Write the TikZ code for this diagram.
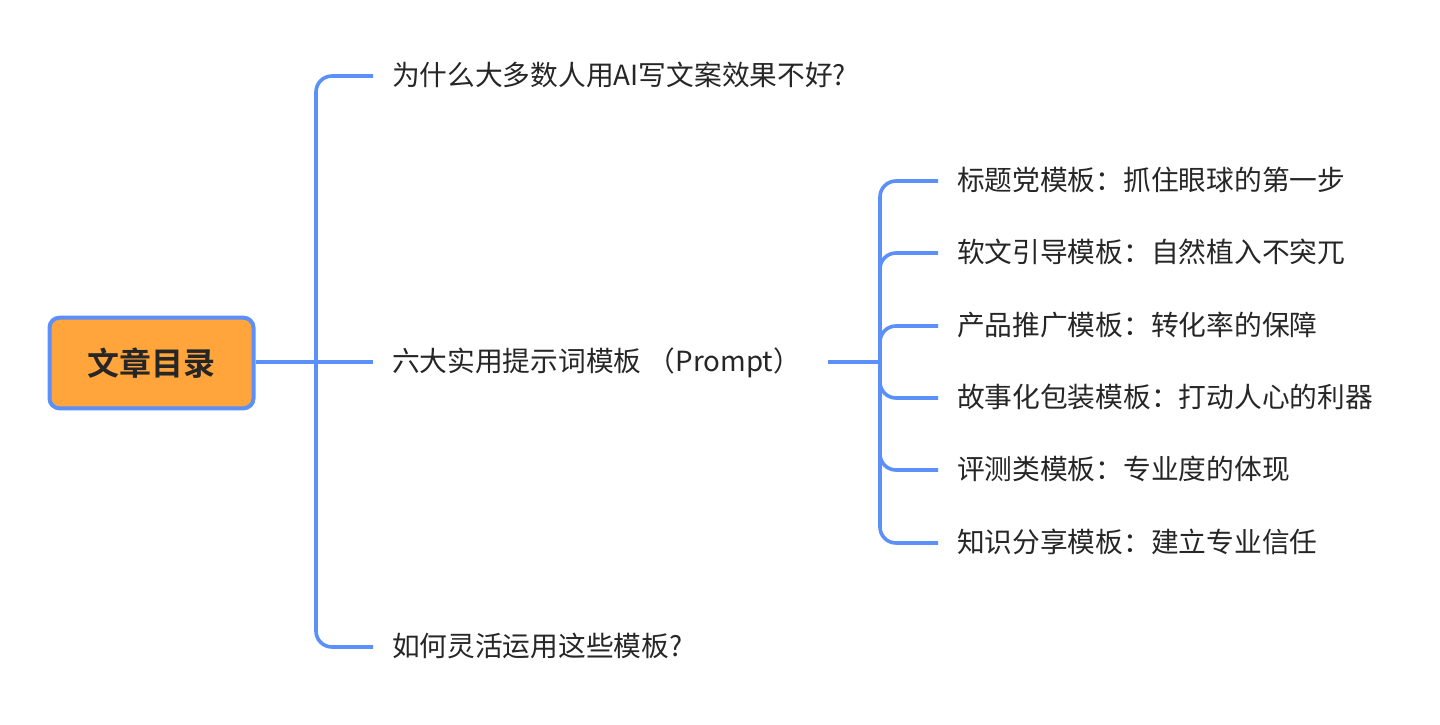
\documentclass[tikz,border=0pt]{standalone}
\usepackage{fontspec}
\newfontfamily\cjk{Noto Sans CJK SC}
\newfontfamily\cjkb{Noto Sans CJK SC Bold}
\definecolor{linec}{HTML}{5B8FF9}
\definecolor{rootfill}{HTML}{FFA53B}
\definecolor{txt}{HTML}{262626}
\begin{document}
\begin{tikzpicture}[x=0.75pt,y=-0.75pt,
  conn/.style={draw=linec,line width=2.7pt,rounded corners=12pt},
  rootbox/.style={draw=linec,line width=3pt,fill=rootfill,rounded corners=7.5pt,
    minimum width=153pt,minimum height=68pt,inner sep=0pt,
    font=\cjkb\fontsize{24pt}{28pt}\selectfont,text=txt},
  topic/.style={anchor=west,inner sep=0pt,outer xsep=14.25pt,
    text height=15pt,text depth=0.6pt,
    font=\cjk\fontsize{20.8pt}{24pt}\selectfont,text=txt}]
\useasboundingbox (0,0) rectangle (1440,725);
\node[rootbox] (root) at (151.5,363) {文章目录};
\coordinate (j1) at (316,362);
\node[topic] (p1) at (373,76) {为什么大多数人用AI写文案效果不好?};
\node[topic] (p2) at (373,362) {六大实用提示词模板 （Prompt）};
\node[topic] (p3) at (373,647) {如何灵活运用这些模板?};
\coordinate (j2) at (880,362);
\node[topic] (s1) at (938,181) {标题党模板：抓住眼球的第一步};
\node[topic] (s2) at (938,253) {软文引导模板：自然植入不突兀};
\node[topic] (s3) at (938,326) {产品推广模板：转化率的保障};
\node[topic] (s4) at (938,398) {故事化包装模板：打动人心的利器};
\node[topic] (s5) at (938,470) {评测类模板：专业度的体现};
\node[topic] (s6) at (938,543) {知识分享模板：建立专业信任};
\draw[conn] (root.east |- j1) -- (j1);
\draw[conn] (j1) |- (p1.west);
\draw[conn] (j1) -- (p2.west);
\draw[conn] (j1) |- (p3.west);
\draw[conn] ([xshift=6pt]p2.east) -- (j2);
\foreach \s in {s1,s2,s3,s4,s5,s6}{
  \draw[conn] (j2) |- (\s.west);
}
\end{tikzpicture}
\end{document}
